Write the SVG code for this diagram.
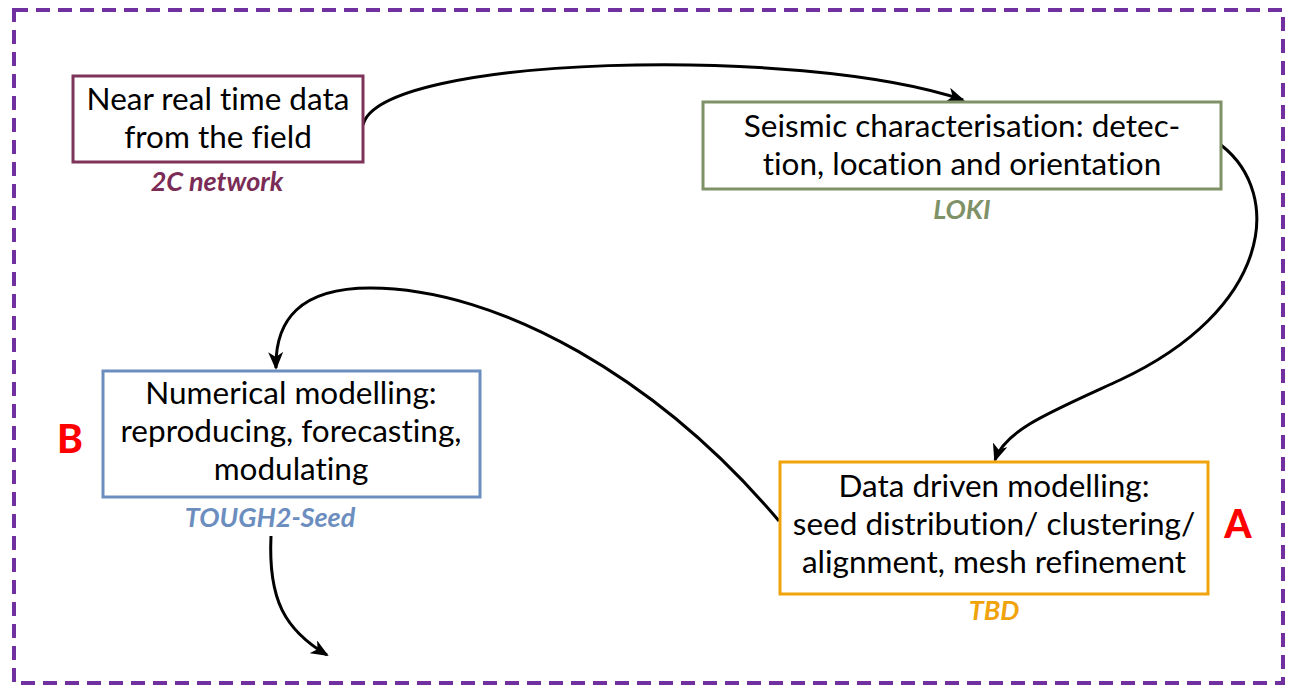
<svg xmlns="http://www.w3.org/2000/svg" width="1293" height="687" viewBox="0 0 1293 687">
<style>
.box{fill:#fff;stroke-width:3}
.t{font-family:Lato,"Liberation Sans",sans-serif;font-size:31.5px;fill:#000;text-anchor:middle;font-variant-ligatures:none}
.lbl{font-family:Lato,"Liberation Sans",sans-serif;font-size:27px;font-weight:bold;font-style:italic;text-anchor:middle}
.big{font-family:Lato,"Liberation Sans",sans-serif;font-size:39px;font-weight:900;fill:#FF0000;text-anchor:middle}
.c{fill:none;stroke:#000;stroke-width:3}
</style>
<defs>
<marker id="ah" markerWidth="18" markerHeight="15" refX="16" refY="7.5" orient="auto" markerUnits="userSpaceOnUse">
<path d="M0,0 L18,7.5 L0,15 L5,7.5 Z" fill="#000"/>
</marker>
</defs>
<rect x="0" y="0" width="1293" height="687" fill="#fff"/>
<rect x="14" y="10" width="1269" height="673" fill="none" stroke="#7030A0" stroke-width="4" stroke-dasharray="14 8"/>
<g id="connectors">
<path class="c" d="M363,125 C380,55 800,45 963,100" marker-end="url(#ah)"/>
<path class="c" d="M1221,145 C1285,195 1270,310 1120,380 C1050,412 1005,430 995,460" marker-end="url(#ah)"/>
<path class="c" d="M779,521 C660,380 500,288 370,288 C300,288 275,320 276,368" marker-end="url(#ah)"/>
<path class="c" d="M271,536 C268,600 285,630 327,655" marker-end="url(#ah)"/>
</g>
<g id="n1">
<rect class="box" x="73" y="76" width="290" height="86" stroke="#7E3359"/>
<text class="t" x="218" y="110">Near real time data</text>
<text class="t" x="218" y="148">from the field</text>
<text class="lbl" x="217" y="191" fill="#7B2C56">2C network</text>
</g>
<g id="n2">
<rect class="box" x="703" y="102" width="518" height="87" stroke="#7F9167"/>
<text class="t" x="962" y="137">Seismic characterisation: detec-</text>
<text class="t" x="962" y="175">tion, location and orientation</text>
<text class="lbl" x="962" y="219" fill="#7F9167">LOKI</text>
</g>
<g id="n3">
<rect class="box" x="103" y="371" width="377" height="126" stroke="#6C8EBF"/>
<text class="t" x="291" y="404">Numerical modelling:</text>
<text class="t" x="291" y="442">reproducing, forecasting,</text>
<text class="t" x="291" y="480">modulating</text>
<text class="lbl" x="270" y="527" fill="#6C8EBF">TOUGH2-Seed</text>
</g>
<g id="n4">
<rect class="box" x="780" y="462" width="428" height="132" stroke="#F0A30A"/>
<text class="t" x="994" y="497">Data driven modelling:</text>
<text class="t" x="994" y="535">seed distribution/ clustering/</text>
<text class="t" x="994" y="573">alignment, mesh refinement</text>
<text class="lbl" x="994" y="620" fill="#F0A30A">TBD</text>
</g>
<g id="labelA"><text class="big" x="1238" y="538">A</text></g>
<g id="labelB"><text class="big" x="70" y="453">B</text></g>
</svg>
